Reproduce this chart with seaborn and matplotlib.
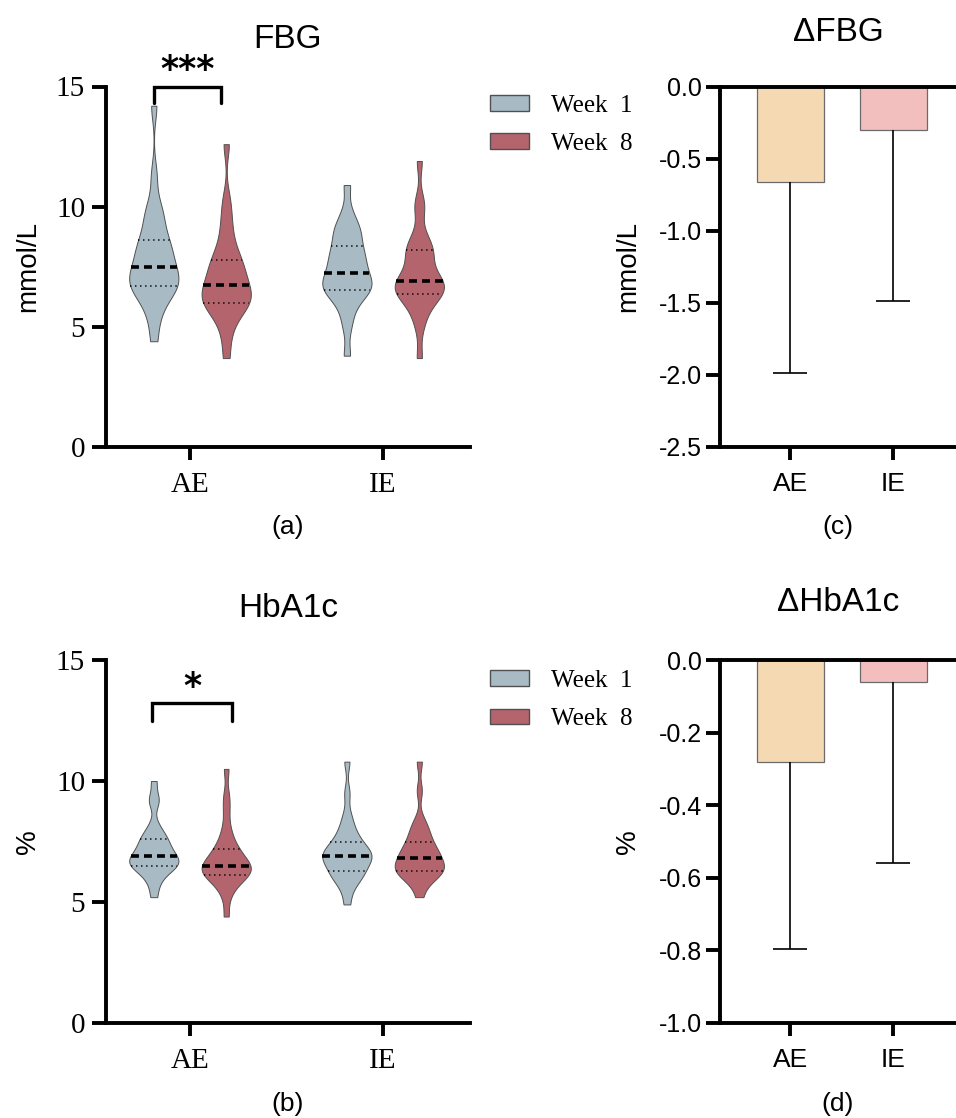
import numpy as np
import pandas as pd
import matplotlib
matplotlib.use("Agg")
import matplotlib.pyplot as plt
import seaborn as sns
from matplotlib.patches import Patch

# ---------------- data ----------------
groups = ["AE", "IE"]
weeks = ["Week 1", "Week 8"]
legend_labels = ["Week  1", "Week  8"]

# FBG (mmol/L) individual values, read/estimated from the violins
fbg_ae_w1 = [4.4, 5.3, 5.8, 6.2, 6.4, 6.6, 6.7, 6.8, 6.9, 7.0, 7.1, 7.3, 7.5,
             7.7, 7.9, 8.1, 8.3, 8.5, 8.6, 9.0, 9.5, 9.7, 10.1, 11.3, 14.2]
fbg_ae_w8 = [3.7, 4.6, 5.2, 5.5, 5.8, 5.9, 6.0, 6.1, 6.2, 6.3, 6.5, 6.6, 6.75,
             6.9, 7.1, 7.3, 7.5, 7.7, 7.8, 8.1, 8.5, 9.0, 9.6, 10.3, 12.6]
fbg_ie_w1 = [3.8, 5.0, 5.6, 6.0, 6.3, 6.45, 6.55, 6.6, 6.7, 6.9, 7.0, 7.1, 7.25,
             7.5, 7.7, 7.8, 8.0, 8.2, 8.35, 8.7, 8.9, 9.1, 9.3, 9.8, 10.9]
fbg_ie_w8 = [3.7, 5.0, 5.5, 5.9, 6.1, 6.25, 6.35, 6.5, 6.6, 6.7, 6.75, 6.8, 6.9,
             7.0, 7.2, 7.5, 7.8, 8.0, 8.2, 8.3, 8.5, 8.9, 9.9, 10.2, 11.9]

# HbA1c (%) individual values
hba_ae_w1 = [5.2, 5.7, 6.0, 6.2, 6.35, 6.45, 6.5, 6.55, 6.6, 6.7, 6.75, 6.8, 6.9,
             7.0, 7.1, 7.2, 7.35, 7.5, 7.6, 7.7, 7.9, 8.2, 9.1, 9.3, 10.0]
hba_ae_w8 = [4.4, 5.2, 5.6, 5.8, 5.95, 6.05, 6.1, 6.2, 6.3, 6.35, 6.4, 6.45, 6.5,
             6.6, 6.7, 6.8, 6.95, 7.1, 7.2, 7.4, 7.7, 8.1, 8.8, 9.4, 10.5]
hba_ie_w1 = [4.9, 5.5, 5.8, 6.0, 6.1, 6.2, 6.3, 6.45, 6.6, 6.7, 6.8, 6.85, 6.9,
             7.0, 7.05, 7.1, 7.25, 7.4, 7.5, 7.7, 7.9, 8.2, 8.6, 9.5, 10.8]
hba_ie_w8 = [5.2, 5.7, 5.9, 6.05, 6.15, 6.25, 6.3, 6.35, 6.4, 6.5, 6.6, 6.7, 6.8,
             6.9, 7.0, 7.1, 7.2, 7.35, 7.5, 7.7, 7.9, 8.1, 8.4, 9.6, 10.8]

# change scores (mean and SD)
dfbg_mean = [-0.66, -0.30]
dfbg_sd = [1.33, 1.19]
dhba_mean = [-0.28, -0.06]
dhba_sd = [0.515, 0.50]

violin_ticks = [0, 5, 10, 15]
dfbg_ticks = [0.0, -0.5, -1.0, -1.5, -2.0, -2.5]
dhba_ticks = [0.0, -0.2, -0.4, -0.6, -0.8, -1.0]

violin_colors = ["#A8BBC5", "#B4646C"]
bar_colors = ["#F5D9B2", "#F2BEBE"]

# ---------------- style ----------------
sns.set_style("ticks")
plt.rcParams["font.family"] = ["Liberation Sans", "DejaVu Sans"]
plt.rcParams["axes.unicode_minus"] = False
for key in ["text.color", "axes.labelcolor", "xtick.color", "ytick.color", "axes.edgecolor"]:
    plt.rcParams[key] = "black"

SERIF = "Liberation Serif"
SPINE_LW = 2.8


def long_df(cells):
    rows = []
    for (g, w), vals in cells.items():
        for v in vals:
            rows.append((g, w, v))
    return pd.DataFrame(rows, columns=["group", "week", "value"])


fbg_df = long_df({("AE", "Week 1"): fbg_ae_w1, ("AE", "Week 8"): fbg_ae_w8,
                  ("IE", "Week 1"): fbg_ie_w1, ("IE", "Week 8"): fbg_ie_w8})
hba_df = long_df({("AE", "Week 1"): hba_ae_w1, ("AE", "Week 8"): hba_ae_w8,
                  ("IE", "Week 1"): hba_ie_w1, ("IE", "Week 8"): hba_ie_w8})

fig = plt.figure(figsize=(9.56, 11.18), dpi=100)
W, H = 956, 1118


def px_axes(left, top, right, bottom):
    return fig.add_axes([left / W, 1 - bottom / H, (right - left) / W, (bottom - top) / H])


def violin_panel(ax, df, ylabel, title, title_pad, panel, sig, bx0, bx1, byhi, bylo, leg_top):
    sns.violinplot(data=df, x="group", y="value", hue="week", order=groups, hue_order=weeks,
                   palette=violin_colors, saturation=1, inner="quart", cut=0,
                   width=0.75, gap=0.32, density_norm="width", bw_adjust=0.55,
                   linewidth=0.7, linecolor="#505050", legend=False, ax=ax)
    for i, ln in enumerate(ax.lines):
        ln.set_color("black")
        if i % 3 == 1:
            ln.set_linewidth(2.6)
            ln.set_dashes([2.2, 1.4])
        else:
            ln.set_linewidth(1.1)
            ln.set_dashes([0.9, 2.4])
    ax.set_ylim(0, 15)
    ax.set_yticks(violin_ticks)
    ax.set_xlim(-0.435, 1.45)
    for s in ["top", "right"]:
        ax.spines[s].set_visible(False)
    for s in ["left", "bottom"]:
        ax.spines[s].set_linewidth(SPINE_LW)
    ax.tick_params(axis="y", width=SPINE_LW, length=10, labelsize=21, pad=5,
                   labelfontfamily=SERIF)
    ax.tick_params(axis="x", width=SPINE_LW, length=9, labelsize=21, pad=9,
                   labelfontfamily=SERIF)
    ax.set_xlabel("")
    ax.set_ylabel(ylabel, fontsize=20)
    ax.yaxis.set_label_coords(-0.178, 0.5)
    ax.set_title(title, fontsize=24, pad=title_pad)
    ax.text(0.5, -0.222, panel, transform=ax.transAxes, ha="center", va="center", fontsize=19)
    # significance bracket
    ax.plot([bx0, bx0, bx1, bx1], [bylo, byhi, byhi, bylo], color="black", lw=2.4,
            clip_on=False, solid_joinstyle="miter")
    ax.annotate(sig, xy=((bx0 + bx1) / 2, byhi), xytext=(0, 4.5), textcoords="offset points",
                ha="center", va="baseline", fontsize=25, fontweight="bold",
                family="DejaVu Sans", annotation_clip=False)
    handles = [Patch(facecolor=c, edgecolor="#505050", linewidth=1) for c in violin_colors]
    ax.legend(handles, legend_labels, loc="upper left",
              bbox_to_anchor=(490 / W, 1 - leg_top / H), bbox_transform=fig.transFigure,
              frameon=False, prop=dict(family=SERIF, size=18), handlelength=1.55,
              handleheight=0.6, handletextpad=0.9, labelspacing=0.65,
              borderaxespad=0, borderpad=0)


def bar_panel(ax, means, sds, ticks, ylabel, title, title_pad, panel):
    sns.barplot(x=groups, y=means, hue=groups, palette=bar_colors, saturation=1,
                width=0.65, edgecolor="#6b6b6b", linewidth=0.9, legend=False,
                errorbar=None, ax=ax)
    cont = ax.errorbar(x=list(range(len(groups))), y=means, yerr=[sds, [0] * len(sds)],
                       fmt="none", ecolor="black", elinewidth=1.2, capsize=12,
                       capthick=1.2, zorder=1)
    for cap in cont.lines[1]:
        if np.allclose(cap.get_ydata(), means):
            cap.set_visible(False)
    ax.set_ylim(ticks[-1], ticks[0])
    ax.set_yticks(ticks)
    ax.set_yticklabels([f"{t:.1f}" for t in ticks])
    ax.set_xlim(-0.68, 1.61)
    ax.spines["right"].set_visible(False)
    for s in ["top", "left", "bottom"]:
        ax.spines[s].set_linewidth(SPINE_LW)
    ax.tick_params(axis="y", width=SPINE_LW, length=10, labelsize=18, pad=3)
    ax.tick_params(axis="x", width=SPINE_LW, length=9, labelsize=19, pad=9)
    ax.set_xlabel("")
    ax.set_ylabel(ylabel, fontsize=20)
    ax.yaxis.set_label_coords(-0.335, 0.5)
    ax.set_title(title, fontsize=24, pad=title_pad)
    ax.text(0.5, -0.222, panel, transform=ax.transAxes, ha="center", va="center", fontsize=19)


ax_a = px_axes(106, 86.5, 470, 447)
ax_b = px_axes(106, 660, 470, 1023)
ax_c = px_axes(720, 86.5, 956, 447)
ax_d = px_axes(720, 660, 956, 1023)

violin_panel(ax_a, fbg_df, "mmol/L", "FBG", 28, "(a)", "***", -0.187, 0.16, 15.0, 14.3, 95)
violin_panel(ax_b, hba_df, "%", "HbA1c", 31, "(b)", "*", -0.197, 0.218, 13.23, 12.5, 670)
bar_panel(ax_c, dfbg_mean, dfbg_sd, dfbg_ticks, "mmol/L", "\u0394FBG", 33, "(c)")
bar_panel(ax_d, dhba_mean, dhba_sd, dhba_ticks, "%", "\u0394HbA1c", 35, "(d)")

fig.savefig("out.png", dpi=100, facecolor="white")
